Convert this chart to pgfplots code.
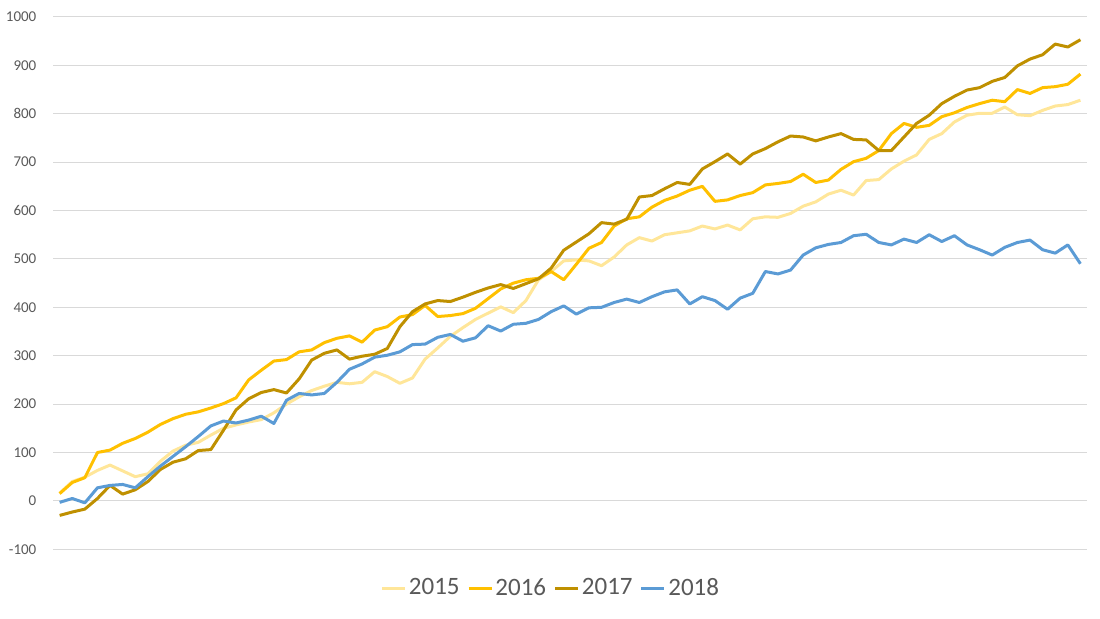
\documentclass[border=0pt]{standalone}
\usepackage{pgfplots}
\pgfplotsset{compat=1.18}
\usepackage{pgfplotstable}
\usepackage{fontspec}
\setmainfont{Carlito}
\definecolor{c15}{HTML}{FFE699}
\definecolor{c16}{HTML}{FFC000}
\definecolor{c17}{HTML}{BF9000}
\definecolor{c18}{HTML}{5B9BD5}
\definecolor{txtgray}{HTML}{595959}
\definecolor{gridgray}{HTML}{D9D9D9}

\pgfplotstableread{
i a b c d
0 16 15 -30 -3
1 40 38 -23 5
2 49 48 -17 -4
3 63 100 5 27
4 74 105 32 32
5 62 119 14 34
6 50 129 23 27
7 56 142 40 50
8 82 158 65 72
9 103 170 80 92
10 115 179 87 112
11 121 184 104 133
12 136 192 106 155
13 150 201 146 165
14 157 213 188 161
15 163 250 211 167
16 168 270 224 175
17 182 289 230 160
18 200 292 223 208
19 215 308 252 222
20 228 312 291 219
21 237 327 305 222
22 245 336 312 245
23 242 341 293 272
24 245 328 299 283
25 267 353 303 297
26 257 360 315 301
27 243 380 360 308
28 254 385 391 323
29 293 404 407 324
30 316 381 414 338
31 340 383 412 344
32 358 387 421 330
33 375 398 431 337
34 388 418 440 362
35 401 438 447 351
36 389 450 439 365
37 414 457 449 367
38 457 460 459 375
39 474 474 481 391
40 496 457 518 403
41 498 489 535 386
42 496 522 552 399
43 486 534 575 400
44 504 568 572 410
45 529 583 582 417
46 544 587 628 410
47 537 607 631 422
48 550 621 645 432
49 554 630 658 436
50 558 642 654 407
51 568 650 686 422
52 562 619 701 414
53 570 622 717 396
54 560 631 696 419
55 583 637 717 429
56 587 653 728 474
57 586 656 742 469
58 594 660 754 477
59 609 675 752 508
60 618 658 744 523
61 634 663 752 530
62 642 685 759 534
63 632 701 747 548
64 662 708 746 551
65 664 724 724 534
66 686 759 724 529
67 702 780 752 541
68 715 772 780 534
69 747 776 797 550
70 759 794 821 536
71 783 802 836 548
72 797 813 849 529
73 801 821 854 519
74 801 828 867 508
75 814 825 875 524
76 798 850 899 534
77 796 842 913 539
78 807 854 922 519
79 816 856 944 512
80 819 861 938 529
81 828 882 953 490
}\datatable

\begin{document}
\begin{tikzpicture}
\path[use as bounding box] (0,0) rectangle (550pt,309.5pt);
\begin{axis}[
  at={(26.67pt,34.85pt)}, anchor=south west,
  scale only axis, width=516.7pt, height=266.15pt,
  xmin=-0.5, xmax=81.5, ymin=-100, ymax=1000,
  ytick={-100,0,...,1000},
  xtick=\empty,
  axis line style={draw=none},
  ymajorgrids, grid style={gridgray, line width=0.5pt},
  major tick length=0pt,
  tick style={draw=none},
  yticklabel style={font=\fontsize{7.5}{9}\selectfont, text=txtgray, inner sep=0pt, xshift=-8.3pt},
  /pgf/number format/assume math mode=true,
  /pgf/number format/1000 sep={},
  legend style={at={(0.4816,-0.073)}, anchor=center, draw=none, fill=none,
    legend columns=4, font=\fontsize{12.5}{15}\selectfont, text=txtgray,
    /tikz/every even column/.append style={column sep=2.5pt},
    /tikz/every odd column/.append style={column sep=0pt},
    nodes={inner sep=1.2pt}},
  legend image code/.code={\draw[#1, line width=1.5pt] (0pt,0pt) -- (11.5pt,0pt);},
  every axis plot/.append style={line width=1.5pt, mark=none, line join=round},
  clip=false,
]
\addplot[c15] table[x=i, y=a] {\datatable};
\addlegendentry{2015}
\addplot[c16] table[x=i, y=b] {\datatable};
\addlegendentry{2016}
\addplot[c17] table[x=i, y=c] {\datatable};
\addlegendentry{2017}
\addplot[c18] table[x=i, y=d] {\datatable};
\addlegendentry{2018}
\end{axis}
\end{tikzpicture}
\end{document}
